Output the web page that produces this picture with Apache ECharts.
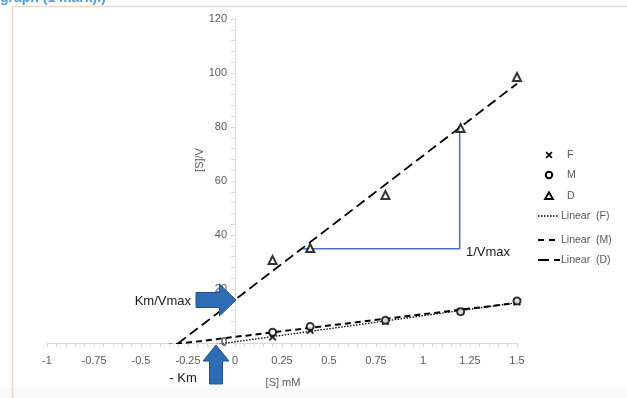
<!DOCTYPE html>
<html>
<head>
<meta charset="utf-8">
<script src="https://cdn.jsdelivr.net/npm/echarts@6/dist/echarts.min.js"></script>
<style>html,body{margin:0;padding:0;background:#fff;}#c{width:627px;height:398px;}</style>
</head>
<body>
<div id="c"></div>
<script>
// ---- data ----
var S = [0.2, 0.4, 0.8, 1.2, 1.5];
var F = [2.2, 4.7, 8.0, 11.7, 15.2];
var M = [4.0, 6.1, 8.4, 11.6, 15.6];
var D = [30.7, 35.2, 54.8, 79.6, 98.5];
var xTicks = [-1, -0.75, -0.5, -0.25, 0, 0.25, 0.5, 0.75, 1, 1.25, 1.5];
var yTicks = [0, 20, 40, 60, 80, 100, 120];
var legendNames = ['F', 'M', 'D', 'Linear  (F)', 'Linear  (M)', 'Linear  (D)'];
// annotation: slope triangle on the D trendline (x, y in data units)
var slopeX = [0.35, 1.195, 1.195];
var slopeY = [34.9, 34.9, 79.9];
var forecastStart = -1;

function pairs(xs, ys) { return xs.map(function (x, i) { return [x, ys[i]]; }); }
function trend(xs, ys) {
  var n = xs.length, mx = 0, my = 0, sxx = 0, sxy = 0;
  for (var i = 0; i < n; i++) { mx += xs[i]; my += ys[i]; }
  mx /= n; my /= n;
  for (i = 0; i < n; i++) { sxx += (xs[i] - mx) * (xs[i] - mx); sxy += (xs[i] - mx) * (ys[i] - my); }
  var b = sxy / sxx, a = my - b * mx;
  var x1 = xs[n - 1];
  return [[forecastStart, a + b * forecastStart], [x1, a + b * x1]];
}

var font = 'Liberation Sans';
var grey = '#595959';
var crossPath = 'path://M0,1.7L1.7,0L5,3.3L8.3,0L10,1.7L6.7,5L10,8.3L8.3,10L5,6.7L1.7,10L0,8.3L3.3,5Z';

var gridLeft = 47, gridRight = 110, gridTop = 19, gridBottom = 55;
var W = 627, H = 398;
var plotW = W - gridLeft - gridRight;
var plotH = H - gridTop - gridBottom;
var xMin = xTicks[0], xMax = xTicks[xTicks.length - 1];
// put the y axis where x = 0
var yAxisOffset = -plotW * (0 - xMin) / (xMax - xMin);

// custom legend (positions only)
var lgY0 = 155, lgStep = [0, 20, 41, 61, 85, 105];
var legendGraphics = [];
legendNames.forEach(function (nm, i) {
  var y = lgY0 + lgStep[i];
  var isLine = i >= 3;
  legendGraphics.push({ type: 'text', x: isLine ? 561 : 567, y: y, z: 10,
    style: { text: nm, fill: grey, font: '10.5px ' + font, textAlign: 'left', textVerticalAlign: 'middle' } });
  if (i === 0) {
    legendGraphics.push({ type: 'polygon', z: 10,
      shape: { points: [[545.5, y - 2.3], [546.7, y - 3.5], [549, y - 1.2], [551.3, y - 3.5], [552.5, y - 2.3], [550.2, y], [552.5, y + 2.3], [551.3, y + 3.5], [549, y + 1.2], [546.7, y + 3.5], [545.5, y + 2.3], [547.8, y]] },
      style: { fill: '#000' } });
  } else if (i === 1) {
    legendGraphics.push({ type: 'circle', z: 10, shape: { cx: 549, cy: y, r: 3.2 }, style: { fill: 'none', stroke: '#000', lineWidth: 2 } });
  } else if (i === 2) {
    legendGraphics.push({ type: 'polygon', z: 10, shape: { points: [[549, y - 3.8], [553, y + 3], [545, y + 3]] }, style: { fill: 'none', stroke: '#000', lineWidth: 1.8 } });
  } else if (i === 3) {
    legendGraphics.push({ type: 'line', z: 10, shape: { x1: 538, y1: y, x2: 559, y2: y }, style: { stroke: '#000', lineWidth: 1.3, lineDash: [1.5, 1.5] } });
  } else if (i === 4) {
    legendGraphics.push({ type: 'line', z: 10, shape: { x1: 538, y1: y, x2: 559, y2: y }, style: { stroke: '#000', lineWidth: 2, lineDash: [6, 5] } });
  } else {
    legendGraphics.push({ type: 'line', z: 10, shape: { x1: 538, y1: y, x2: 560, y2: y }, style: { stroke: '#000', lineWidth: 1.8, lineDash: [11, 5] } });
  }
});

// y-axis "0" label (hidden by the library where the two axes cross)
var zeroX = gridLeft + plotW * (0 - xMin) / (xMax - xMin);
var zeroY = gridTop + plotH;

var chart = echarts.init(document.getElementById('c'), null, { renderer: 'canvas' });
chart.setOption({
  animation: false,
  backgroundColor: '#ffffff',
  textStyle: { fontFamily: font },
  grid: { left: gridLeft, right: gridRight, top: gridTop, bottom: gridBottom },
  xAxis: {
    type: 'value', min: xMin, max: xMax, interval: 0.25,
    axisLine: { show: true, onZero: false, lineStyle: { color: '#d9d9d9', width: 1 } },
    axisTick: { show: true, length: 4, lineStyle: { color: '#d9d9d9' } },
    minorTick: { show: true, splitNumber: 5, length: 4, lineStyle: { color: '#d9d9d9' } },
    splitLine: { show: false },
    axisLabel: { color: grey, fontSize: 11, margin: 12, fontFamily: font, showMinLabel: true, showMaxLabel: true }
  },
  yAxis: {
    type: 'value', min: yTicks[0], max: yTicks[yTicks.length - 1], interval: 20,
    offset: yAxisOffset,
    axisLine: { show: true, onZero: false, lineStyle: { color: '#d9d9d9', width: 1 } },
    axisTick: { show: true, length: 4, lineStyle: { color: '#d9d9d9' } },
    minorTick: { show: true, splitNumber: 5, length: 4, lineStyle: { color: '#d9d9d9' } },
    splitLine: { show: false },
    axisLabel: { color: grey, fontSize: 11, margin: 8, fontFamily: font, showMinLabel: true, showMaxLabel: true }
  },
  series: [
    { name: 'Linear  (F)', type: 'line', data: trend(S, F), symbol: 'none', clip: true, z: 2,
      lineStyle: { color: '#000', width: 1.3, type: [1.5, 1.5] }, itemStyle: { color: '#000' } },
    { name: 'Linear  (M)', type: 'line', data: trend(S, M), symbol: 'none', clip: true, z: 2,
      lineStyle: { color: '#000', width: 2, type: [6, 4] }, itemStyle: { color: '#000' } },
    { name: 'Linear  (D)', type: 'line', data: trend(S, D), symbol: 'none', clip: true, z: 2,
      lineStyle: { color: '#000', width: 1.8, type: [10, 5] }, itemStyle: { color: '#000' } },
    { name: 'slope', type: 'line', data: pairs(slopeX, slopeY), symbol: 'none', silent: true, z: 1,
      lineStyle: { color: '#4472c4', width: 1.5 } },
    { name: 'F', type: 'scatter', data: pairs(S, F), symbol: crossPath, symbolSize: 8, z: 3,
      itemStyle: { color: '#000' } },
    { name: 'M', type: 'scatter', data: pairs(S, M), symbol: 'emptyCircle', symbolSize: 7, z: 3,
      itemStyle: { color: '#000', borderColor: '#000', borderWidth: 2 } },
    { name: 'D', type: 'scatter', data: pairs(S, D), symbol: 'emptyTriangle', symbolSize: 8, z: 3,
      itemStyle: { color: '#000', borderColor: '#000', borderWidth: 1.8 } }
  ],
  graphic: [
    // page frame / header remnants
    { type: 'text', left: 0, top: -9, z: 10, style: { text: 'graph (1 mark).)', fill: '#4a9de0', font: 'bold 14px ' + font } },
    { type: 'rect', shape: { x: 0, y: 388, width: 627, height: 10 }, style: { fill: '#f9f9f9' }, z: 0 },
    { type: 'line', shape: { x1: 12.5, y1: 6.5, x2: 12.5, y2: 398 }, style: { stroke: '#ead8cb', lineWidth: 1.5 }, z: 10 },
    { type: 'line', shape: { x1: 12.5, y1: 6.5, x2: 627, y2: 6.5 }, style: { stroke: '#ead8cb', lineWidth: 1.5 }, z: 10 },
    { type: 'text', x: zeroX - 8, y: zeroY - 1, z: 5,
      style: { text: String(yTicks[0]), fill: grey, font: '11px ' + font, textAlign: 'right', textVerticalAlign: 'middle' } },
    // axis titles
    { type: 'text', x: 200, y: 160, rotation: Math.PI / 2, z: 10,
      style: { text: '[S]/V', fill: grey, font: '11px ' + font, textAlign: 'center', textVerticalAlign: 'middle' } },
    { type: 'text', x: 283, y: 383, z: 10,
      style: { text: '[S] mM', fill: grey, font: '11px ' + font, textAlign: 'center', textVerticalAlign: 'middle' } },
    // annotations
    { type: 'text', x: 466, y: 252, z: 10,
      style: { text: '1/Vmax', fill: '#1a1a1a', font: '13px ' + font, textAlign: 'left', textVerticalAlign: 'middle' } },
    { type: 'text', x: 191, y: 301, z: 10,
      style: { text: 'Km/Vmax', fill: '#1a1a1a', font: '13px ' + font, textAlign: 'right', textVerticalAlign: 'middle' } },
    { type: 'text', x: 183, y: 378, z: 10,
      style: { text: '- Km', fill: '#1a1a1a', font: '13px ' + font, textAlign: 'center', textVerticalAlign: 'middle' } },
    { type: 'polygon', z: 20,
      shape: { points: [[196, 292.5], [219.5, 292.5], [219.5, 284], [236, 300], [219.5, 316], [219.5, 307.5], [196, 307.5]] },
      style: { fill: '#2e6db5', stroke: '#24538a', lineWidth: 1 } },
    { type: 'polygon', z: 20,
      shape: { points: [[216, 345], [229, 361], [222.5, 361], [222.5, 384], [209.5, 384], [209.5, 361], [203, 361]] },
      style: { fill: '#2e6db5', stroke: '#24538a', lineWidth: 1 } }
  ].concat(legendGraphics)
});
</script>
</body>
</html>
